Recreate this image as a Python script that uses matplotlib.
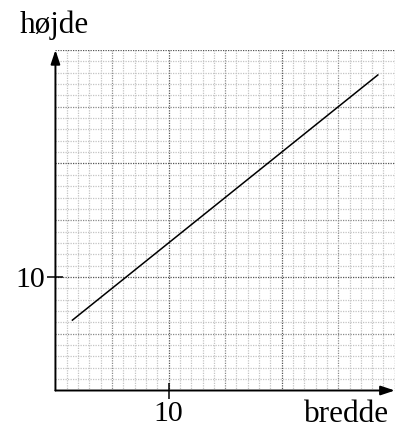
import matplotlib.pyplot as plt
from matplotlib.ticker import FixedLocator

# data
bredde = [1.5, 28.5]
hoejde = [6.2, 27.8]
xticks = [10]
yticks = [10]
x_max = 30
y_max = 30

plt.rcParams['font.family'] = ['Liberation Serif', 'DejaVu Serif']

fig = plt.figure(figsize=(3.96, 4.28), dpi=100)
ax = fig.add_axes([0.140, 0.0876, 0.857, 0.7956])

ax.set_xlim(0, x_max)
ax.set_ylim(0, y_max)

# fine grid (1 unit), medium (5 units), strong (10 units)
for v in range(1, x_max + 1):
    c = '#555555' if v % 10 == 0 else ('#8a8a8a' if v % 5 == 0 else '#c4c4c4')
    ax.axvline(v, color=c, linestyle=(0, (1, 1)), linewidth=0.9, zorder=0)
for v in range(1, y_max + 1):
    c = '#555555' if v % 10 == 0 else ('#8a8a8a' if v % 5 == 0 else '#c4c4c4')
    ax.axhline(v, color=c, linestyle=(0, (1, 1)), linewidth=0.9, zorder=0)

ax.plot(bredde, hoejde, color='black', linewidth=1.1, zorder=3)

for s in ax.spines.values():
    s.set_visible(False)

# axes with arrows
arrow = dict(arrowstyle='-|>,head_length=0.6,head_width=0.2', color='black',
             lw=1.4, mutation_scale=14, shrinkA=0, shrinkB=0)
ax.annotate('', xy=(1.0, 0), xytext=(0, 0), xycoords='axes fraction',
            arrowprops=arrow, annotation_clip=False)
ax.annotate('', xy=(0, 1.0), xytext=(0, 0), xycoords='axes fraction',
            arrowprops=arrow, annotation_clip=False)

ax.xaxis.set_major_locator(FixedLocator(xticks))
ax.yaxis.set_major_locator(FixedLocator(yticks))
ax.set_xticklabels([str(t) for t in xticks])
ax.set_yticklabels([str(t) for t in yticks])
ax.tick_params(direction='inout', length=11, width=1.1, labelsize=21.5,
               pad=2, colors='black')

fig.text(20 / 396, 1 - 33 / 428, 'højde', fontsize=22.5, ha='left', va='baseline')
fig.text(389 / 396, 1 - 422 / 428, 'bredde', fontsize=22.5, ha='right', va='baseline')

fig.savefig('out.png', dpi=100)
